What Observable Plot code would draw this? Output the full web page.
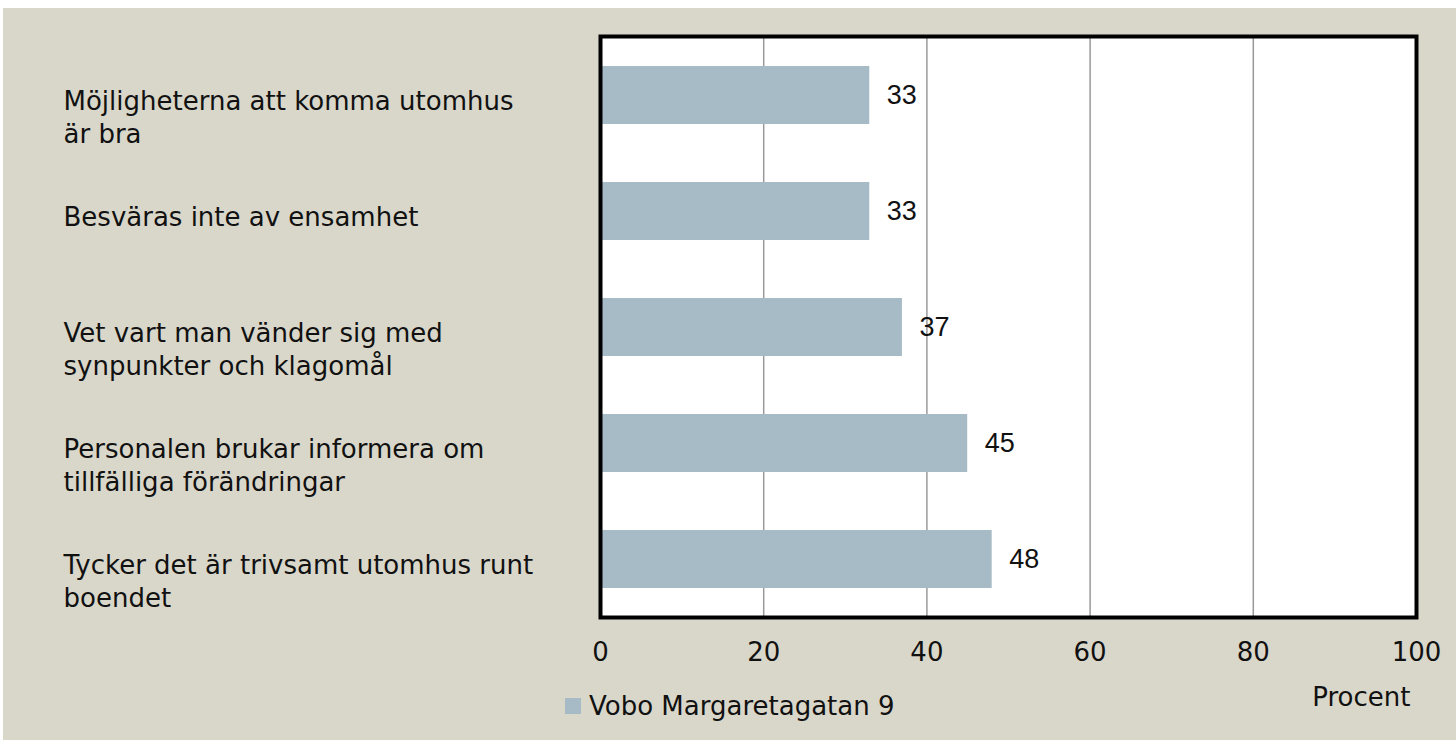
<!DOCTYPE html>
<html>
<head>
<meta charset="utf-8">
<script src="https://cdn.jsdelivr.net/npm/d3@7"></script>
<script src="https://cdn.jsdelivr.net/npm/@observablehq/plot@0.6"></script>
<style>
  html, body { margin: 0; padding: 0; background: #ffffff; }
  #wrap { position: absolute; left: 3px; top: 8px; width: 1453px; height: 732px; background: #d9d7ca; }
  #legend { position: absolute; left: 562px; top: 683px; font-family: "DejaVu Sans", sans-serif; font-size: 26px; color: #111; display: flex; align-items: center; }
  #legend .sw { width: 16px; height: 16px; margin-right: 8px; }
</style>
</head>
<body>
<div id="wrap"><div id="chart"></div><div id="legend"></div></div>
<script>
const categories = [
  "Möjligheterna att komma utomhus\när bra",
  "Besväras inte av ensamhet",
  "Vet vart man vänder sig med\nsynpunkter och klagomål",
  "Personalen brukar informera om\ntillfälliga förändringar",
  "Tycker det är trivsamt utomhus runt\nboendet"
];
const values = [33, 33, 37, 45, 48];
const seriesName = "Vobo Margaretagatan 9";
const xTicks = [0, 20, 40, 60, 80, 100];
const xLabel = "Procent";

const barColor = "#a7bbc6";
const data = categories.map((c, i) => ({category: c, value: values[i]}));

const chart = Plot.plot({
  width: 1453,
  height: 732,
  marginLeft: 597,
  marginRight: 40,
  marginTop: 28,
  marginBottom: 123,
  style: {background: "#d9d7ca", fontFamily: "DejaVu Sans, sans-serif", fontSize: "26px", color: "#111"},
  x: {domain: [0, 100], ticks: xTicks},
  y: {domain: categories, paddingInner: 0.5, paddingOuter: 0.25, axis: null},
  marks: [
    Plot.frame({fill: "white", stroke: null}),
    Plot.ruleX(xTicks.filter(t => t > 0 && t < 100), {stroke: "#999", strokeWidth: 1.5}),
    Plot.barX(data, {x: "value", y: "category", fill: barColor}),
    Plot.text(data, {x: "value", y: "category", text: d => String(d.value), textAnchor: "start", dx: 17, fontFamily: "Liberation Sans, Arial, sans-serif", fontSize: 27, fill: "#111"}),
    Plot.text(data, {y: "category", text: "category", frameAnchor: "left", textAnchor: "start", lineAnchor: "top", dx: -537, dy: -9, lineHeight: 1.27, fontSize: 26, fill: "#111"}),
    Plot.axisX({ticks: xTicks, tickSize: 0, tickPadding: 25, label: null, fontSize: 26, fill: "#111"}),
    Plot.text([xLabel], {frameAnchor: "bottom-right", textAnchor: "end", lineAnchor: "middle", dx: -6, dy: 80, fontSize: 26, fill: "#111"}),
    Plot.frame({stroke: "black", strokeWidth: 4})
  ]
});
document.getElementById("chart").appendChild(chart);

const legend = document.getElementById("legend");
const sw = document.createElement("span");
sw.className = "sw";
sw.style.background = barColor;
legend.appendChild(sw);
const lt = document.createElement("span");
lt.textContent = seriesName;
legend.appendChild(lt);
</script>
</body>
</html>
